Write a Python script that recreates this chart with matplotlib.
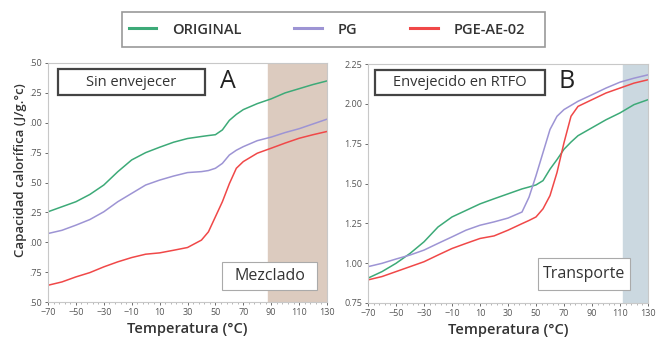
import numpy as np
import matplotlib
matplotlib.use("Agg")
import matplotlib.pyplot as plt
import matplotlib.patches as patches
from matplotlib.lines import Line2D

plt.rcParams['font.family'] = ['Open Sans', 'DejaVu Sans']

## data
temp_a = [-70, -60, -50, -40, -30, -20, -10, 0, 10, 20, 30, 40, 45, 50, 55, 60,
          65, 70, 80, 90, 100, 110, 120, 130]
orig_a = [1.255, 1.297, 1.339, 1.40, 1.479, 1.59, 1.689, 1.75, 1.795, 1.837, 1.868,
          1.885, 1.893, 1.90, 1.94, 2.02, 2.07, 2.11, 2.16, 2.20, 2.25, 2.285, 2.32, 2.35]
pg_a = [1.073, 1.10, 1.143, 1.19, 1.255, 1.339, 1.409, 1.479, 1.52, 1.554, 1.583,
        1.591, 1.60, 1.619, 1.66, 1.73, 1.77, 1.80, 1.85, 1.88, 1.918, 1.95, 1.99, 2.03]
pge_a = [0.64, 0.668, 0.71, 0.746, 0.794, 0.836, 0.872, 0.90, 0.911, 0.933, 0.956,
         1.018, 1.087, 1.213, 1.339, 1.49, 1.619, 1.675, 1.745, 1.787, 1.83, 1.87, 1.90, 1.927]

temp_b = [-70, -60, -50, -40, -30, -20, -10, 0, 10, 20, 30, 40, 45, 50, 55, 60,
          65, 70, 75, 80, 90, 100, 110, 120, 130]
orig_b = [0.906, 0.947, 0.999, 1.061, 1.134, 1.227, 1.29, 1.331, 1.372, 1.404, 1.435,
          1.466, 1.478, 1.491, 1.518, 1.59, 1.65, 1.715, 1.76, 1.80, 1.85, 1.90, 1.943,
          1.995, 2.026]
pg_b = [0.978, 0.999, 1.026, 1.051, 1.082, 1.124, 1.165, 1.207, 1.238, 1.259, 1.283,
        1.321, 1.414, 1.549, 1.694, 1.839, 1.922, 1.964, 1.99, 2.016, 2.057, 2.099,
        2.136, 2.161, 2.182]
pge_b = [0.895, 0.916, 0.947, 0.978, 1.009, 1.051, 1.092, 1.124, 1.155, 1.171, 1.207,
         1.248, 1.268, 1.29, 1.341, 1.424, 1.569, 1.756, 1.922, 1.984, 2.026, 2.068,
         2.099, 2.13, 2.151]

series_names = ['ORIGINAL', 'PG', 'PGE-AE-02']
colors = ['#3daa78', '#9d94d4', '#f04848']

x_ticks = [-70, -50, -30, -10, 10, 30, 50, 70, 90, 110, 130]
yticks_a = [0.5, 0.75, 1.0, 1.25, 1.5, 1.75, 2.0, 2.25, 2.5]
ylabels_a = ['.50', '.75', '.00', '.25', '.50', '.75', '.00', '.25', '.50']
yticks_b = [0.75, 1.0, 1.25, 1.5, 1.75, 2.0, 2.25]
ylabels_b = ['0.75', '1.00', '1.25', '1.50', '1.75', '2.00', '2.25']

W, H = 659, 346
fig = plt.figure(figsize=(W / 100, H / 100), dpi=100)


def px_axes(x0, y0, x1, y1):
    return fig.add_axes([x0 / W, 1 - y1 / H, (x1 - x0) / W, (y1 - y0) / H])


def px_box(x0, y0, x1, y1, text, lw=1.6, ec='#444444', fs=10.5):
    rect = patches.Rectangle((x0 / W, 1 - y1 / H), (x1 - x0) / W, (y1 - y0) / H,
                             transform=fig.transFigure, facecolor='white',
                             edgecolor=ec, linewidth=lw, zorder=5)
    fig.patches.append(rect)
    fig.text((x0 + x1) / 2 / W, 1 - (y0 + y1) / 2 / H, text, ha='center',
             va='center', fontsize=fs, color='#333333', zorder=6)


def style_axes(ax, yticks, ylabels, ylim):
    ax.set_xlim(-70, 130)
    ax.set_ylim(*ylim)
    ax.set_xticks(x_ticks)
    ax.set_xticks(np.arange(-70, 131, 4), minor=True)
    ax.set_yticks(yticks)
    ax.set_yticklabels(ylabels)
    ax.tick_params(labelsize=6.5, colors='#555555', length=2, width=0.6, pad=2)
    ax.tick_params(which='minor', length=1.5, width=0.5, color='#999999')
    for s in ax.spines.values():
        s.set_color('#c8c8c8')
        s.set_linewidth(0.8)
    ax.set_xlabel('Temperatura (°C)', fontsize=10.5, color='#333333',
                  fontweight='semibold', labelpad=4)


## panel A
ax1 = px_axes(48, 63, 327, 302)
ax1.axvspan(88, 130, color='#dccbbf', zorder=0)
for ys, c, n in zip([orig_a, pg_a, pge_a], colors, series_names):
    ax1.plot(temp_a, ys, color=c, lw=1.1, label=n)
style_axes(ax1, yticks_a, ylabels_a, (0.5, 2.5))
ax1.set_ylabel('Capacidad calorífica (J/g.°c)', fontsize=9.5, color='#333333',
               fontweight='semibold')
ax1.yaxis.set_label_coords(-0.077, 0.55)

## panel B
ax2 = px_axes(368, 64, 648, 303)
ax2.axvspan(112, 130, color='#cbd8e0', zorder=0)
for ys, c, n in zip([orig_b, pg_b, pge_b], colors, series_names):
    ax2.plot(temp_b, ys, color=c, lw=1.1, label=n)
style_axes(ax2, yticks_b, ylabels_b, (0.75, 2.25))

## annotation boxes
px_box(58, 69, 205, 95, 'Sin envejecer')
fig.text(228 / W, 1 - 82 / H, 'A', fontsize=18, ha='center', va='center',
         color='#222222')
px_box(222, 262, 317, 290, 'Mezclado', lw=0.8, ec='#aaaaaa', fs=11.5)

px_box(375, 70, 545, 95, 'Envejecido en RTFO')
fig.text(567 / W, 1 - 82 / H, 'B', fontsize=18, ha='center', va='center',
         color='#222222')
px_box(538, 258, 630, 290, 'Transporte', lw=0.8, ec='#aaaaaa', fs=11.5)

## legend
leg_box = patches.Rectangle((122 / W, 1 - 47 / H), 423 / W, 35 / H,
                            transform=fig.transFigure, facecolor='white',
                            edgecolor='#999999', linewidth=1.2)
fig.patches.append(leg_box)
handles = [Line2D([], [], color=c, lw=2.2) for c in colors]
fig.legend(handles, series_names, loc='center', ncol=3, frameon=False,
           bbox_to_anchor=(327 / W, 1 - 29.5 / H),
           prop={'size': 10.5, 'weight': 'semibold'},
           handlelength=1.9, columnspacing=3.6, handletextpad=1.1,
           labelcolor='#333333')

fig.savefig('out.png', dpi=100)
